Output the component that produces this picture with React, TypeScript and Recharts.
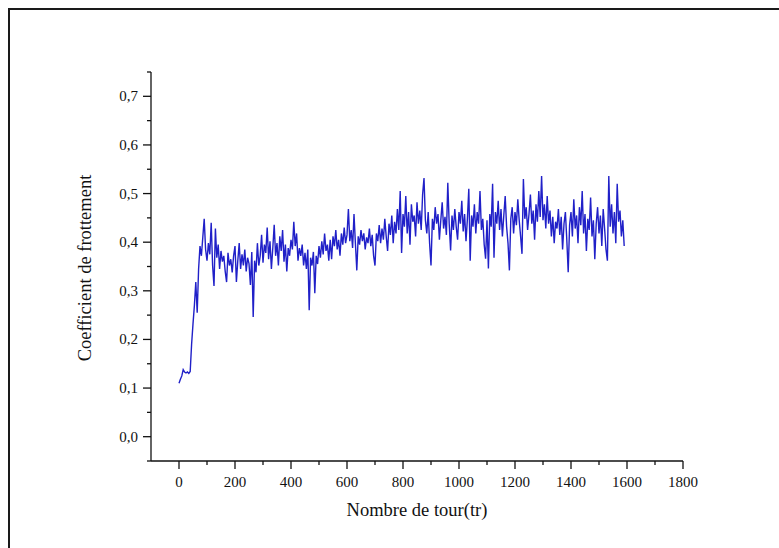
import { LineChart, Line, XAxis, YAxis } from "recharts";

// friction coefficient, one value every STEP turns (0 .. 1590)
const STEP = 5;
const frottement: number[] = [
  // 0 - 95
  0.110, 0.118, 0.125, 0.138, 0.133, 0.131, 0.133, 0.130, 0.134, 0.190,
  0.232, 0.270, 0.318, 0.255, 0.345, 0.392, 0.372, 0.410, 0.448, 0.385,
  // 100 - 195
  0.362, 0.398, 0.375, 0.440, 0.352, 0.310, 0.428, 0.368, 0.395, 0.345,
  0.382, 0.360, 0.372, 0.340, 0.318, 0.378, 0.352, 0.365, 0.338, 0.372,
  // 200 - 295
  0.392, 0.318, 0.362, 0.398, 0.345, 0.375, 0.352, 0.385, 0.340, 0.368,
  0.356, 0.312, 0.380, 0.246, 0.362, 0.338, 0.398, 0.352, 0.372, 0.415,
  // 300 - 395
  0.358, 0.395, 0.378, 0.430, 0.365, 0.402, 0.345, 0.388, 0.436, 0.372,
  0.398, 0.352, 0.412, 0.382, 0.425, 0.360, 0.395, 0.340, 0.388, 0.372,
  // 400 - 495
  0.405, 0.385, 0.442, 0.392, 0.418, 0.362, 0.388, 0.372, 0.395, 0.352,
  0.378, 0.345, 0.385, 0.260, 0.368, 0.352, 0.380, 0.295, 0.372, 0.355,
  // 500 - 595
  0.392, 0.368, 0.402, 0.375, 0.418, 0.382, 0.395, 0.362, 0.405, 0.365,
  0.412, 0.392, 0.425, 0.385, 0.405, 0.372, 0.418, 0.395, 0.430, 0.398,
  // 600 - 695
  0.415, 0.468, 0.402, 0.425, 0.388, 0.458, 0.398, 0.342, 0.412, 0.395,
  0.425, 0.402, 0.418, 0.385, 0.410, 0.398, 0.428, 0.392, 0.415, 0.372,
  // 700 - 795
  0.352, 0.418, 0.402, 0.435, 0.398, 0.428, 0.405, 0.448, 0.412, 0.382,
  0.438, 0.415, 0.455, 0.398, 0.442, 0.418, 0.468, 0.425, 0.505, 0.378,
  // 800 - 895
  0.458, 0.432, 0.495, 0.418, 0.462, 0.395, 0.478, 0.442, 0.455, 0.412,
  0.482, 0.438, 0.465, 0.425, 0.498, 0.532, 0.445, 0.418, 0.462, 0.398,
  // 900 - 995
  0.352, 0.448, 0.425, 0.472, 0.438, 0.458, 0.405, 0.445, 0.482, 0.428,
  0.452, 0.415, 0.522, 0.438, 0.383, 0.455, 0.425, 0.468, 0.432, 0.405,
  // 1000 - 1095
  0.462, 0.438, 0.485, 0.422, 0.458, 0.402, 0.448, 0.510, 0.362, 0.455,
  0.432, 0.478, 0.418, 0.462, 0.438, 0.505, 0.425, 0.448, 0.395, 0.366,
  // 1100 - 1195
  0.445, 0.346, 0.458, 0.432, 0.520, 0.368, 0.462, 0.438, 0.485, 0.425,
  0.468, 0.412, 0.455, 0.495, 0.432, 0.398, 0.342, 0.448, 0.472, 0.418,
  // 1200 - 1295
  0.462, 0.435, 0.488, 0.445, 0.412, 0.376, 0.530, 0.448, 0.472, 0.425,
  0.458, 0.498, 0.438, 0.465, 0.405, 0.478, 0.442, 0.505, 0.452, 0.536,
  // 1300 - 1395
  0.445, 0.478, 0.428, 0.495, 0.438, 0.465, 0.412, 0.452, 0.398, 0.442,
  0.428, 0.468, 0.415, 0.452, 0.385, 0.438, 0.462, 0.405, 0.338, 0.435,
  // 1400 - 1495
  0.462, 0.412, 0.488, 0.428, 0.455, 0.398, 0.472, 0.435, 0.505, 0.418,
  0.458, 0.382, 0.448, 0.425, 0.492, 0.412, 0.445, 0.365, 0.438, 0.472,
  // 1500 - 1590
  0.418, 0.455, 0.392, 0.468, 0.428, 0.385, 0.362, 0.536, 0.432, 0.478,
  0.418, 0.462, 0.398, 0.520, 0.442, 0.465, 0.412, 0.445, 0.392,
];

const xTicks = [
  0, 100, 200, 300, 400, 500, 600, 700, 800, 900,
  1000, 1100, 1200, 1300, 1400, 1500, 1600, 1700, 1800,
];
const yTicks = [
  -0.05, 0, 0.05, 0.1, 0.15, 0.2, 0.25, 0.3, 0.35,
  0.4, 0.45, 0.5, 0.55, 0.6, 0.65, 0.7, 0.75,
];

const data = frottement.map((v, i) => ({ tour: i * STEP, coef: v }));

const FONT = "'Liberation Serif', 'Times New Roman', serif";
const INK = "#111";

const X_TICK_SIZE = 8;
const X_TICK_MARGIN = 4;
const Y_TICK_SIZE = 8;
const Y_TICK_MARGIN = 6;

const XTick = (props: any) => {
  const { x, y, payload } = props;
  const major = payload.value % 200 === 0;
  const axisY = y - X_TICK_SIZE - X_TICK_MARGIN;
  return (
    <g>
      <line x1={x} x2={x} y1={axisY} y2={axisY + (major ? 8 : 4)} stroke={INK} strokeWidth={1.3} />
      {major && (
        <text x={x} y={axisY + 21} textAnchor="middle" dominantBaseline="central"
          fontFamily={FONT} fontSize={15} fill={INK}>
          {payload.value}
        </text>
      )}
    </g>
  );
};

const YTick = (props: any) => {
  const { x, y, payload } = props;
  const major = Math.round(payload.value * 100) % 10 === 0;
  const axisX = x + Y_TICK_SIZE + Y_TICK_MARGIN;
  return (
    <g>
      <line x1={axisX - (major ? 8 : 4)} x2={axisX} y1={y} y2={y} stroke={INK} strokeWidth={1.3} />
      {major && (
        <text x={axisX - 13} y={y} textAnchor="end" dominantBaseline="central"
          fontFamily={FONT} fontSize={15} fill={INK}>
          {payload.value.toFixed(1).replace(".", ",")}
        </text>
      )}
    </g>
  );
};

export default function App() {
  return (
    <div style={{ position: "absolute", left: 0, top: 0, width: 779, height: 548, background: "#fff", overflow: "hidden" }}>
      <div style={{
        position: "absolute", left: 8, top: 8, width: 800, height: 600,
        borderTop: "2px solid #1a1a1a", borderLeft: "2px solid #1a1a1a",
        pointerEvents: "none",
      }} />
      <LineChart width={779} height={548} data={data}
        margin={{ top: 72, right: 96, bottom: 57, left: 0 }}>
        <XAxis dataKey="tour" type="number" domain={[-100, 1800]} ticks={xTicks}
          allowDataOverflow interval={0} height={30}
          tickSize={X_TICK_SIZE} tickMargin={X_TICK_MARGIN} tickLine={false}
          axisLine={{ stroke: INK, strokeWidth: 1.3 }} tick={<XTick />}
          label={{
            content: () => (
              <text x={417} y={510} textAnchor="middle" dominantBaseline="central"
                fontFamily={FONT} fontSize={18.5} fill={INK}>
                Nombre de tour(tr)
              </text>
            ),
          }} />
        <YAxis type="number" domain={[-0.05, 0.75]} ticks={yTicks}
          allowDataOverflow interval={0} width={151}
          tickSize={Y_TICK_SIZE} tickMargin={Y_TICK_MARGIN} tickLine={false}
          axisLine={{ stroke: INK, strokeWidth: 1.3 }} tick={<YTick />}
          label={{
            content: () => (
              <text x={85} y={268} textAnchor="middle" dominantBaseline="central"
                transform="rotate(-90 85 268)"
                fontFamily={FONT} fontSize={18.5} fill={INK}>
                Coefficient de frottement
              </text>
            ),
          }} />
        <Line type="linear" dataKey="coef" stroke="#2020c8" strokeWidth={1.4}
          dot={false} isAnimationActive={false} />
      </LineChart>
    </div>
  );
}
